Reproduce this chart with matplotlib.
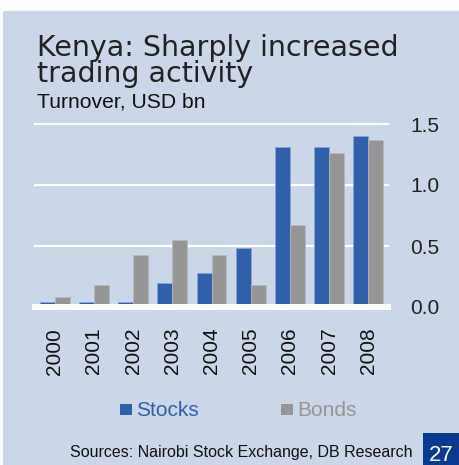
import matplotlib
matplotlib.use("Agg")
import matplotlib.pyplot as plt
import matplotlib.patches as mpatches
import numpy as np

years = ["2000", "2001", "2002", "2003", "2004", "2005", "2006", "2007", "2008"]
stocks = [0.045, 0.04, 0.037, 0.20, 0.28, 0.48, 1.31, 1.31, 1.40]
bonds = [0.08, 0.18, 0.43, 0.55, 0.43, 0.18, 0.67, 1.26, 1.37]
yticks = [0.0, 0.5, 1.0, 1.5]
ytick_labels = ["0.0", "0.5", "1.0", "1.5"]

W, H = 459, 465
fig = plt.figure(figsize=(W / 100, H / 100), dpi=100, facecolor="white")

def fx(px):
    return px / W

def fy(py):
    return 1 - py / H

BG = "#CBD6E8"
BLUE = "#3160AA"
GREY = "#969696"

fig.patches.append(mpatches.Rectangle((fx(3), 0), 1 - fx(3), fy(11), transform=fig.transFigure,
                                      facecolor=BG, edgecolor="none", zorder=-10))

ax = fig.add_axes([fx(35), fy(307), fx(388) - fx(35), fy(124) - fy(307)])
ax.set_zorder(5)
ax.set_facecolor("none")
x = np.arange(len(years))
w = 0.38
ax.bar(x - w / 2, stocks, width=w, color=BLUE, edgecolor="#8FA6CF", linewidth=0.5, zorder=2)
ax.bar(x + w / 2, bonds, width=w, color=GREY, edgecolor="#B5B8C0", linewidth=0.5, zorder=2)
ax.set_xlim(-0.5, len(years) - 0.5)
ax.set_ylim(0, 1.5)
for t in yticks[1:]:
    ax.axhline(t, color="white", lw=1.6, zorder=1, clip_on=False)
ax.axhline(0, color="white", lw=4.3, zorder=3, clip_on=False)
for s in ax.spines.values():
    s.set_visible(False)
ax.yaxis.tick_right()
ax.set_yticks(yticks)
ax.set_yticklabels(ytick_labels, fontsize=15, family="Liberation Sans", color="#222222")
ax.tick_params(axis="y", length=0, pad=16)
ax.set_xticks(x)
ax.set_xticklabels(years, rotation=90, fontsize=15, family="Liberation Sans", color="#111111")
ax.tick_params(axis="x", length=0, pad=15)

# Title (two lines in one text)
fig.text(fx(37), fy(82), "Kenya: Sharply increased\ntrading activity", fontsize=20.5,
         family="DejaVu Sans", color="#222222", va="baseline", ha="left", linespacing=0.92)
fig.text(fx(37), fy(107), "Turnover, USD bn", fontsize=15.2, family="Liberation Sans",
         color="#111111", va="baseline", ha="left")

# Legend
fig.patches.append(mpatches.Rectangle((fx(120), fy(415)), fx(12), 11 / H, transform=fig.transFigure,
                                      facecolor=BLUE, edgecolor="none"))
fig.text(fx(136), fy(416), "Stocks", fontsize=15, family="Liberation Sans", color=BLUE,
         va="baseline", ha="left")
fig.patches.append(mpatches.Rectangle((fx(281), fy(415)), fx(12), 11 / H, transform=fig.transFigure,
                                      facecolor=GREY, edgecolor="none"))
fig.text(fx(297), fy(416), "Bonds", fontsize=15, family="Liberation Sans", color=GREY,
         va="baseline", ha="left")

# Source
fig.text(fx(412), fy(457), "Sources: Nairobi Stock Exchange, DB Research", fontsize=11.5,
         family="Liberation Sans", color="#111111", va="baseline", ha="right")

# Page number box
fig.patches.append(mpatches.Rectangle((fx(423), 0), 1 - fx(423), fy(433), transform=fig.transFigure,
                                      facecolor="#0A3A8F", edgecolor="none"))
fig.text(fx(441), fy(461), "27", fontsize=16, family="Liberation Sans", color="white",
         va="baseline", ha="center")

fig.savefig("out.png", dpi=100, facecolor="white")
